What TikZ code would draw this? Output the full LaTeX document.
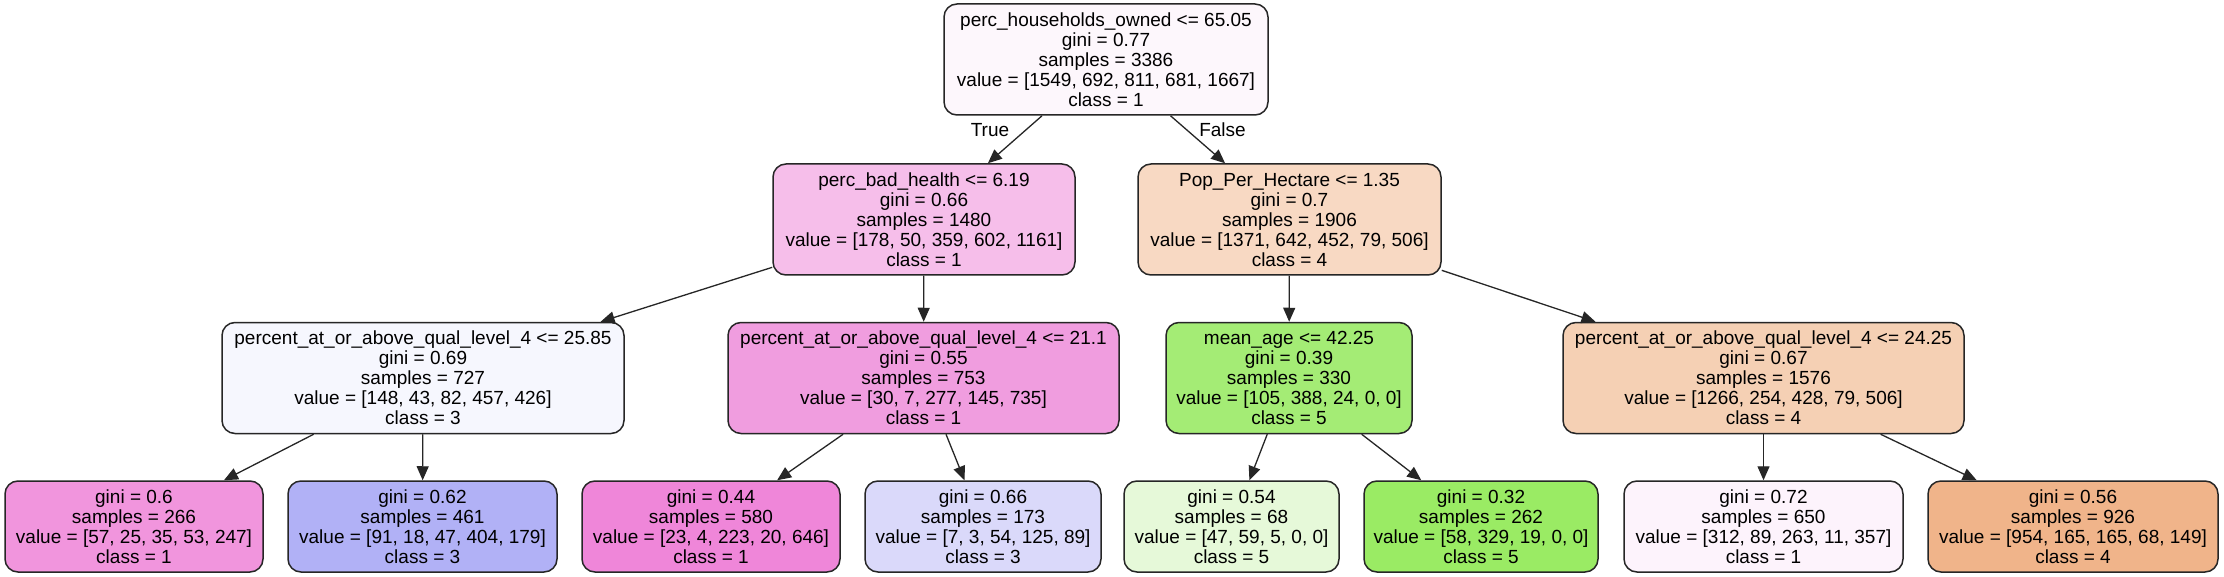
\documentclass[tikz,border=0pt]{standalone}
\usepackage{fontspec}
\setmainfont{Liberation Sans}
\usetikzlibrary{arrows.meta}
\definecolor{cRoot}{HTML}{FDF7FC}
\definecolor{cL}{HTML}{F6BEEA}
\definecolor{cR}{HTML}{F8D9C3}
\definecolor{cA}{HTML}{F6F7FE}
\definecolor{cB}{HTML}{F09DDF}
\definecolor{cC}{HTML}{A4EC75}
\definecolor{cD}{HTML}{F5D0B4}
\definecolor{cLa}{HTML}{F195DD}
\definecolor{cLb}{HTML}{B1B1F6}
\definecolor{cLc}{HTML}{EF86D9}
\definecolor{cLd}{HTML}{DAD9FA}
\definecolor{cLe}{HTML}{E6F9D9}
\definecolor{cLf}{HTML}{9AEB64}
\definecolor{cLg}{HTML}{FDF3FC}
\definecolor{cLh}{HTML}{F0B48A}
\tikzset{
  tbox/.style={draw=black!85, line width=1.5pt, rounded corners=13pt, inner sep=0pt,
    align=center, font=\fontsize{19}{20}\selectfont},
  inner/.style={tbox, minimum height=111pt},
  leafbox/.style={tbox, minimum height=91pt},
  edge/.style={line width=1.3pt, draw=black!85, -{Triangle[length=14pt,width=12pt]}},
  elabel/.style={font=\fontsize{19}{20}\selectfont, inner sep=0pt}
}
\begin{document}
\begin{tikzpicture}[x=1pt,y=-1pt]
\useasboundingbox[fill=white] (0,0) rectangle (2224,577);
\node[inner, fill=cRoot, minimum width=324pt] (root) at (1106,59.5)
  {perc\_households\_owned <= 65.05\\gini = 0.77\\samples = 3386\\value = [1549, 692, 811, 681, 1667]\\class = 1};
\node[inner, fill=cL, minimum width=302pt] (L) at (924,219.5)
  {perc\_bad\_health <= 6.19\\gini = 0.66\\samples = 1480\\value = [178, 50, 359, 602, 1161]\\class = 1};
\node[inner, fill=cR, minimum width=303pt] (R) at (1289.5,219.5)
  {Pop\_Per\_Hectare <= 1.35\\gini = 0.7\\samples = 1906\\value = [1371, 642, 452, 79, 506]\\class = 4};
\node[inner, fill=cA, minimum width=402pt] (A) at (423,378)
  {percent\_at\_or\_above\_qual\_level\_4 <= 25.85\\gini = 0.69\\samples = 727\\value = [148, 43, 82, 457, 426]\\class = 3};
\node[inner, fill=cB, minimum width=391pt] (B) at (923.5,378)
  {percent\_at\_or\_above\_qual\_level\_4 <= 21.1\\gini = 0.55\\samples = 753\\value = [30, 7, 277, 145, 735]\\class = 1};
\node[inner, fill=cC, minimum width=246pt] (C) at (1289,378)
  {mean\_age <= 42.25\\gini = 0.39\\samples = 330\\value = [105, 388, 24, 0, 0]\\class = 5};
\node[inner, fill=cD, minimum width=401pt] (D) at (1763.5,378)
  {percent\_at\_or\_above\_qual\_level\_4 <= 24.25\\gini = 0.67\\samples = 1576\\value = [1266, 254, 428, 79, 506]\\class = 4};
\node[leafbox, fill=cLa, minimum width=258pt] (l1) at (134,526.5)
  {gini = 0.6\\samples = 266\\value = [57, 25, 35, 53, 247]\\class = 1};
\node[leafbox, fill=cLb, minimum width=269pt] (l2) at (422.5,526.5)
  {gini = 0.62\\samples = 461\\value = [91, 18, 47, 404, 179]\\class = 3};
\node[leafbox, fill=cLc, minimum width=258pt] (l3) at (711,526.5)
  {gini = 0.44\\samples = 580\\value = [23, 4, 223, 20, 646]\\class = 1};
\node[leafbox, fill=cLd, minimum width=236pt] (l4) at (983,526.5)
  {gini = 0.66\\samples = 173\\value = [7, 3, 54, 125, 89]\\class = 3};
\node[leafbox, fill=cLe, minimum width=215pt] (l5) at (1231.5,526.5)
  {gini = 0.54\\samples = 68\\value = [47, 59, 5, 0, 0]\\class = 5};
\node[leafbox, fill=cLf, minimum width=234pt] (l6) at (1481,526.5)
  {gini = 0.32\\samples = 262\\value = [58, 329, 19, 0, 0]\\class = 5};
\node[leafbox, fill=cLg, minimum width=279pt] (l7) at (1763.5,526.5)
  {gini = 0.72\\samples = 650\\value = [312, 89, 263, 11, 357]\\class = 1};
\node[leafbox, fill=cLh, minimum width=290pt] (l8) at (2073,526.5)
  {gini = 0.56\\samples = 926\\value = [954, 165, 165, 68, 149]\\class = 4};
\node[elabel] (lblT) at (990,130) {True};
\node[elabel] (lblF) at (1222.5,130) {False};
\draw[edge] (root) -- (L);
\draw[edge] (root) -- (R);
\draw[edge] (L) -- (A);
\draw[edge] (L) -- (B);
\draw[edge] (R) -- (C);
\draw[edge] (R) -- (D);
\draw[edge] (A) -- (l1);
\draw[edge] (A) -- (l2);
\draw[edge] (B) -- (l3);
\draw[edge] (B) -- (l4);
\draw[edge] (C) -- (l5);
\draw[edge] (C) -- (l6);
\draw[edge] (D) -- (l7);
\draw[edge] (D) -- (l8);
\end{tikzpicture}
\end{document}
